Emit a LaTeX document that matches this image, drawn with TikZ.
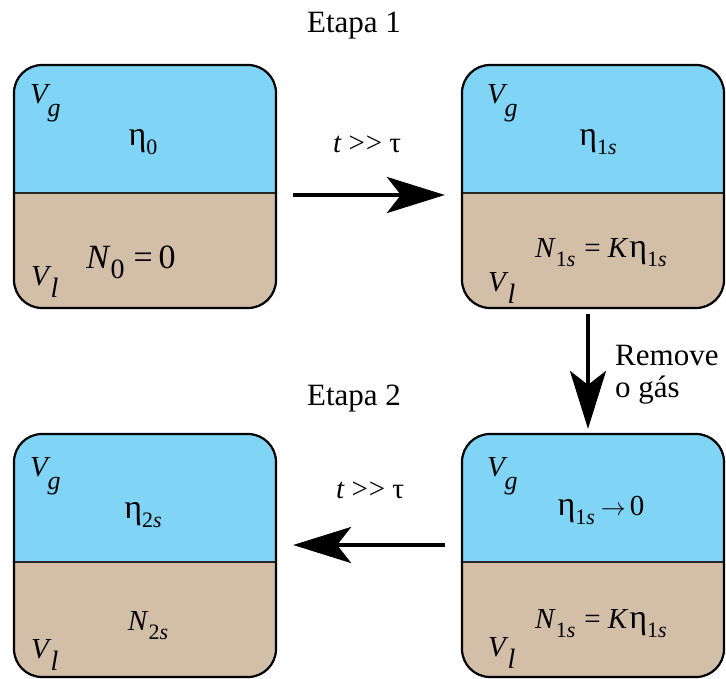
\documentclass[tikz,border=0pt]{standalone}
\usepackage{fontspec}
\setmainfont{Liberation Serif}
\usetikzlibrary{arrows.meta}
\definecolor{gasblue}{RGB}{128,212,246}
\definecolor{liqtan}{RGB}{211,190,168}
\newcommand{\lowsub}[3]{\raisebox{-#1}{\fontsize{#2}{#2}\selectfont #3}}
\newcommand{\Vg}{\textit{V}\kern-3pt\lowsub{13pt}{26}{\textit{g}}}
\newcommand{\Vl}{\textit{V}\kern-1pt\lowsub{12pt}{28}{\textit{l}}}
\newcommand{\sub}[1]{\lowsub{9pt}{22}{#1}}
\newcommand{\bigsub}[1]{\lowsub{10pt}{28}{#1}}
\newcommand{\etaS}{{\fontsize{34}{34}\selectfont η}}
\newcommand{\eqsign}{\kern9pt=\kern7pt}
\newcommand{\tggtau}{\textit{t}\kern7pt>\kern1pt>\kern7pt τ}
\tikzset{
  box/.style={rounded corners=28pt, minimum width=262pt, minimum height=243pt,
    inner sep=0pt, fill=gasblue, line width=2.2pt, draw=black,
    path picture={
      \fill[liqtan, sharp corners] ([yshift=-6.5pt]path picture bounding box.west) rectangle (path picture bounding box.south east);
      \draw[line width=1.5pt, black!85, sharp corners] ([yshift=-6.5pt]path picture bounding box.west) -- ([yshift=-6.5pt]path picture bounding box.east);
    }},
  lbl/.style={inner sep=0pt, anchor=base, font=\fontsize{31}{36}\selectfont},
  lblw/.style={lbl, anchor=base west},
  mlbl/.style={inner sep=0pt, anchor=base, font=\fontsize{29}{34}\selectfont},
  mlblw/.style={mlbl, anchor=base west},
  arr/.style={line width=4.2pt, -{Stealth[length=58pt, width=36pt, inset=14pt]}}
}
\begin{document}
\begin{tikzpicture}[x=1pt, y=-1pt]
\useasboundingbox (0,0) rectangle (726,678);
% boxes
\node[box] (b1) at (145,186.5) {};
\node[box] (b2) at (593,186.5) {};
\node[box] (b3) at (593,555.5) {};
\node[box] (b4) at (145,555.5) {};
% titles
\node[lbl] (et1) at (354,32) {Etapa 1};
\node[lbl] (et2) at (354,405) {Etapa 2};
% box 1
\node[mlblw] (b1vg) at (30,103) {\Vg};
\node[mlbl] (b1eta) at (143,145) {\etaS\sub{0}};
\node[mlbl, font=\fontsize{34}{40}\selectfont] (b1n) at (131,268) {\textit{N}\bigsub{0}\kern9pt=\kern6pt0};
\node[mlblw] (b1vl) at (31,285) {\Vl};
% box 2
\node[mlblw] (b2vg) at (487,103) {\Vg};
\node[mlbl] (b2eta) at (598,145) {\etaS\sub{1\textit{s}}};
\node[mlbl] (b2n) at (601,257) {\textit{N}\sub{1\textit{s}}\eqsign\textit{K}\kern1pt\etaS\sub{1\textit{s}}};
\node[mlblw] (b2vl) at (488,291) {\Vl};
% box 3
\node[mlblw] (b3vg) at (487,476) {\Vg};
\node[mlbl] (b3eta) at (601,515) {\etaS\sub{1\textit{s}}\kern6pt$\rightarrow$\kern4pt 0};
\node[mlbl] (b3n) at (601,628) {\textit{N}\sub{1\textit{s}}\eqsign\textit{K}\kern1pt\etaS\sub{1\textit{s}}};
\node[mlblw] (b3vl) at (488,656) {\Vl};
% box 4
\node[mlblw] (b4vg) at (30,476) {\Vg};
\node[mlbl] (b4eta) at (143,518) {\etaS\sub{2\textit{s}}};
\node[mlbl] (b4n) at (148,630) {\textit{N}\sub{2\textit{s}}};
\node[mlblw] (b4vl) at (31,658) {\Vl};
% arrows
\draw[arr] ([xshift=16pt,yshift=-8.5pt]b1.east) -- ([xshift=-16pt,yshift=-8.5pt]b2.west);
\node[mlbl] (t1) at (367,152) {\tggtau};
\draw[arr] ([xshift=-5pt,yshift=-5pt]b2.south) -- ([xshift=-5pt,yshift=4pt]b3.north);
\node[lblw] (rm1) at (615,365) {Remove};
\node[lblw] (rm2) at (615,397) {o gás};
\draw[arr] ([xshift=-16pt,yshift=10.5pt]b3.west) -- ([xshift=16pt,yshift=10.5pt]b4.east);
\node[mlbl] (t2) at (370,498) {\tggtau};
\end{tikzpicture}
\end{document}
